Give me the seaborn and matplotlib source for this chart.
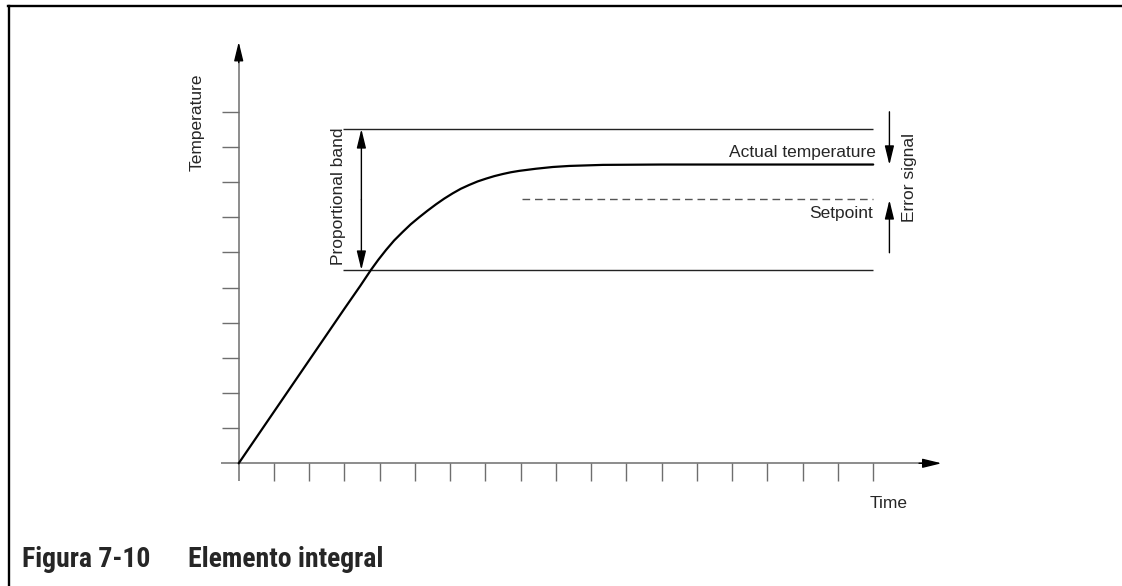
import matplotlib
matplotlib.use("Agg")
import matplotlib.pyplot as plt
from matplotlib.lines import Line2D
from matplotlib import font_manager
import seaborn as sns

# ---- data (in tick units) ----
time_ticks = list(range(1, 19))
temp_ticks = list(range(1, 11))
curve_time = [0, 1.5, 3.0, 3.45, 3.75, 3.96, 4.18, 4.41, 4.65, 4.88, 5.12, 5.36, 5.6, 5.83,
              6.07, 6.30, 6.54, 6.78, 7.02, 7.25, 7.49, 7.72, 7.96, 8.43, 8.91, 9.38, 10.33, 12, 18]
curve_temp = [0, 2.2, 4.4, 5.05, 5.5, 5.79, 6.07, 6.34, 6.58, 6.80, 7.0, 7.19, 7.37, 7.53,
              7.68, 7.81, 7.92, 8.02, 8.10, 8.17, 8.23, 8.28, 8.32, 8.38, 8.43, 8.46, 8.49, 8.5, 8.5]
band_upper = 9.51
band_lower = 5.50
band_start, band_end = 2.96, 18.0
setpoint = 7.51
setpoint_start = 8.04
caption_num = "Figura 7-10"
caption_txt = "Elemento integral"

sns.set_theme(style="white")
names = {f.name for f in font_manager.fontManager.ttflist}
sans = "Liberation Sans" if "Liberation Sans" in names else "DejaVu Sans"
cap_font = None
for cand in ["Roboto Condensed", "Liberation Sans Narrow", "DejaVu Sans Condensed", "Open Sans Condensed"]:
    if cand in names:
        cap_font = cand
        break
if cap_font is None:
    cap_font = sans
plt.rcParams["font.family"] = [sans, "DejaVu Sans"]

fig = plt.figure(figsize=(11.22, 5.86), dpi=100)
ax = fig.add_axes([0, 0, 1, 1])
ax.set_xlim(-6.772, 25.058)
ax.set_ylim(-3.491, 13.181)
ax.axis("off")

axis_col = "#6e6e6e"
# axes lines
ax.plot([-0.5, 19.6], [0, 0], color=axis_col, lw=1.1, solid_capstyle="butt")
ax.plot([0, 0], [-0.51, 11.7], color=axis_col, lw=1.1, solid_capstyle="butt")
ax.vlines(time_ticks, -0.51, 0, color=axis_col, lw=1.0)
ax.hlines(temp_ticks, -0.48, 0, color=axis_col, lw=1.0)

def head(x0, y0, x1, y1, hl=1.15, hw=0.28):
    ax.annotate("", xy=(x1, y1), xytext=(x0, y0),
                arrowprops=dict(arrowstyle=f"-|>,head_length={hl},head_width={hw}",
                                mutation_scale=10, lw=1.0, color="black",
                                shrinkA=0, shrinkB=0))

head(19.3, 0, 19.94, 0)
head(0, 11.4, 0, 11.99)

# band lines
ax.hlines([band_upper, band_lower], band_start, band_end, color="#222222", lw=1.0)
# setpoint dashed
ax.plot([setpoint_start, band_end], [setpoint, setpoint], color="#555555", lw=1.0,
        linestyle=(0, (5.5, 3.5)))
# curve
sns.lineplot(x=curve_time, y=curve_temp, ax=ax, color="black", lw=1.6, sort=False)

# proportional band double arrow
pb_x = 3.48
head(pb_x, 7.5, pb_x, band_upper)
head(pb_x, 7.5, pb_x, band_lower)
# error signal arrows
es_x = 18.46
head(es_x, 10.0, es_x, 8.49)
head(es_x, 5.99, es_x, 7.49)

fs = 12.5
ax.text(-1.18, 9.71, "Temperature", rotation=90, ha="center", va="center", fontsize=fs)
ax.text(2.82, 7.59, "Proportional band", rotation=90, ha="center", va="center", fontsize=fs)
ax.text(18.08, 8.72, "Actual temperature", ha="right", va="baseline", fontsize=fs)
ax.text(18.0, 6.99, "Setpoint", ha="right", va="baseline", fontsize=fs)
ax.text(19.04, 8.12, "Error signal", rotation=90, ha="center", va="center", fontsize=fs)
ax.text(18.45, -1.28, "Time", ha="center", va="baseline", fontsize=fs)

# frame
fig.add_artist(Line2D([8 / 1122, 1121 / 1122], [1 - 6 / 586, 1 - 6 / 586], transform=fig.transFigure,
                      color="black", lw=1.7, solid_capstyle="projecting"))
fig.add_artist(Line2D([9 / 1122, 9 / 1122], [0, 1 - 6 / 586], transform=fig.transFigure,
                      color="black", lw=1.7, solid_capstyle="projecting"))

# caption
fig.text(22 / 1122, 1 - 567 / 586, caption_num, fontsize=20, fontweight="bold",
         family=[cap_font, "DejaVu Sans"], ha="left", va="baseline")
fig.text(188 / 1122, 1 - 567 / 586, caption_txt, fontsize=20, fontweight="bold",
         family=[cap_font, "DejaVu Sans"], ha="left", va="baseline")

fig.savefig("out.png", dpi=100, facecolor="white")
